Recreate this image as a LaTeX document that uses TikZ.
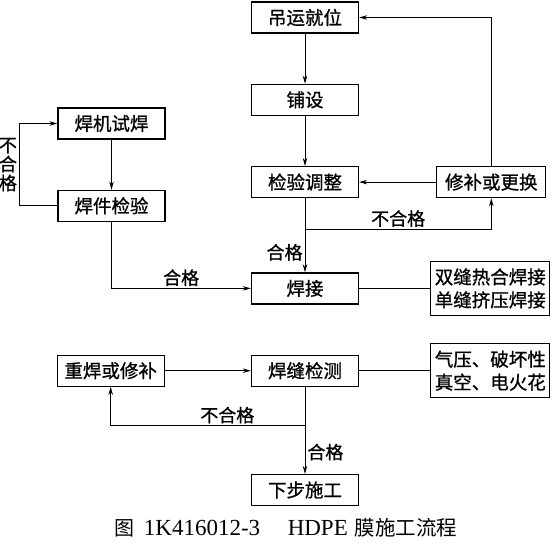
\documentclass[tikz,border=0pt]{standalone}
\usepackage{fontspec}
\setmainfont{Liberation Serif}
\newfontfamily\cjk[FakeBold=0.9]{Noto Sans CJK SC}
\newfontfamily\cjkcap{Noto Sans CJK SC}
\usepackage{tikz}
\usetikzlibrary{arrows.meta, positioning}
\tikzset{
  stepbox/.style={rectangle, draw=black, line width=1.3pt, minimum width=107pt, minimum height=31pt, inner sep=0pt, align=center, font=\cjk\fontsize{18.5}{23}\selectfont},
  notebox/.style={stepbox, minimum width=119pt, minimum height=54pt},
  arrow/.style={-{Stealth[length=8pt, width=4.5pt]}, line width=0.8pt},
  link/.style={line width=0.8pt},
  lbl/.style={font=\cjk\fontsize{18}{19}\selectfont, inner sep=2pt},
}
\begin{document}
\begin{tikzpicture}[x=1pt, y=1pt]
\useasboundingbox (0,0) rectangle (552,-551);
% main column
\node[stepbox] (lift) at (305,-17.5) {吊运就位};
\node[stepbox, below=50pt of lift] (lay) {铺设};
\node[stepbox, below=50pt of lay] (check) {检验调整};
\node[stepbox, below=74pt of check] (weld) {焊接};
\node[stepbox, below=50pt of weld] (seam) {焊缝检测};
\node[stepbox, below=87pt of seam] (next) {下步施工};
% side boxes
\node[stepbox, right=77pt of check, minimum width=109pt] (repair) {修补或更换};
\node[notebox, right=71pt of weld] (method) {双缝热合焊接\\单缝挤压焊接};
\node[notebox, right=71pt of seam] (testway) {气压、破坏性\\真空、电火花};
\node[stepbox] (trial) at (111.5,-123.5) {焊机试焊};
\node[stepbox, below=50pt of trial] (sample) {焊件检验};
\node[stepbox, left=86pt of seam] (reweld) {重焊或修补};
\node[font=\fontsize{23}{23}\selectfont] (caption) at (286,-528)
  {{\cjkcap\fontsize{20}{20}\selectfont 图}\hspace{0.4em}1K416012-3\hspace{1.2em}HDPE\hspace{0.3em}{\cjkcap\fontsize{20.5}{20}\selectfont 膜施工流程}};

\coordinate[below=31pt of check.south] (chkfork);
\coordinate[below=39pt of seam.south] (seamfork);
\coordinate[left=38pt of sample.west] (loopcorner);

\draw[arrow] (lift) -- (lay);
\draw[arrow] (lay) -- (check);
\draw[arrow] (check) -- node[lbl, left, pos=0.73] {合格} (weld);
\draw[arrow] (chkfork) -| node[lbl, above, pos=0.25] {不合格} (repair);
\draw[arrow] (repair) -- (check);
\draw[arrow] (repair) |- (lift);
\draw[arrow] (trial) -- (sample);
\draw[arrow] (sample.west) -- (loopcorner) |- node[lbl, left, pos=0.25, align=center] {不\\合\\格} (trial.west);
\draw[arrow] (sample) |- node[lbl, above, pos=0.75] {合格} (weld);
\draw[link] (weld) -- (method);
\draw[link] (seam) -- (testway);
\draw[arrow] (seam) -- node[lbl, right, pos=0.75] {合格} (next);
\draw[arrow] (seamfork) -| node[lbl, above, pos=0.2] {不合格} (reweld);
\draw[arrow] (reweld) -- (seam);
\end{tikzpicture}
\end{document}
